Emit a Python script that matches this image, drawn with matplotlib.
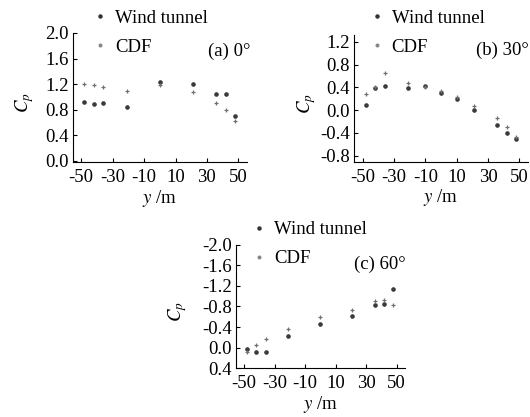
import matplotlib
matplotlib.use("Agg")
import matplotlib.pyplot as plt
from matplotlib.lines import Line2D

plt.rcParams['font.family'] = ['Liberation Serif', 'DejaVu Serif']
plt.rcParams['mathtext.fontset'] = 'stix'
plt.rcParams['axes.unicode_minus'] = False
plt.rcParams['font.size'] = 13.5

# panel (a) 0 deg
ya = [-48, -42, -36, -21, 0, 21, 36, 42, 48]
wind_a = [0.92, 0.89, 0.90, 0.84, 1.23, 1.20, 1.04, 1.05, 0.70]
cdf_a = [1.20, 1.18, 1.15, 1.10, 1.18, 1.08, 0.90, 0.80, 0.62]

# panel (b) 30 deg
yb = [-48, -42, -36, -21, -10, 0, 10, 21, 36, 42, 48]
wind_b = [0.09, 0.38, 0.42, 0.39, 0.42, 0.30, 0.19, 0.00, -0.26, -0.41, -0.51]
cdf_b = [0.29, 0.40, 0.66, 0.47, 0.40, 0.33, 0.23, 0.07, -0.14, -0.30, -0.47]

# panel (c) 60 deg
yc = [-48, -42, -36, -21, 0, 21, 36, 42, 48]
wind_c = [0.03, 0.09, 0.08, -0.22, -0.45, -0.62, -0.83, -0.85, -1.14]
cdf_c = [0.08, -0.05, -0.17, -0.36, -0.60, -0.74, -0.90, -0.93, -0.82]

xticks = [-50, -30, -10, 10, 30, 50]

fig = plt.figure(figsize=(5.3, 4.17), dpi=100)

panels = [
    # axes rect, x, wind, cdf, ylim, yticks, tag, tag pos, legend pos, ylabel x
    ([0.137, 0.611, 0.329, 0.310], ya, wind_a, cdf_a, (-0.02, 2.0),
     [0.0, 0.4, 0.8, 1.2, 1.6, 2.0], "(a) 0°", (0.472, 0.878), (0.178, 0.977), -0.21),
    ([0.668, 0.612, 0.328, 0.304], yb, wind_b, cdf_b, (-0.91, 1.32),
     [-0.8, -0.4, 0.0, 0.4, 0.8, 1.2], "(b) 30°", (0.998, 0.880), (0.700, 0.977), -0.21),
    ([0.445, 0.117, 0.319, 0.296], yc, wind_c, cdf_c, (0.4, -2.0),
     [0.4, 0.0, -0.4, -0.8, -1.2, -1.6, -2.0], "(c) 60°", (0.766, 0.365), (0.478, 0.470), -0.28),
]

for rect, x, wind, cdf, ylim, yt, tag, tagpos, legpos, ylx in panels:
    ax = fig.add_axes(rect)
    ax.plot(x, wind, linestyle='none', marker='o', ms=2.3, color='#3a3a3a')
    ax.plot(x, cdf, linestyle='none', marker='+', ms=3.2, mew=0.9, color='#707070')
    ax.set_xlim(-55.5, 55.5)
    ax.set_ylim(*ylim)
    ax.set_xticks(xticks)
    ax.set_yticks(yt)
    ax.set_yticklabels(["%.1f" % v for v in yt])
    ax.spines['top'].set_visible(False)
    ax.spines['right'].set_visible(False)
    ax.tick_params(direction='in', length=3, width=0.8, labelsize=13.5)
    ax.tick_params(axis='x', pad=5)
    ax.tick_params(axis='y', pad=3)
    ax.set_xlabel("$y$ /m", fontsize=13.5, labelpad=1)
    ax.set_ylabel("$C_p$", fontsize=13.5)
    ax.yaxis.set_label_coords(ylx, 0.46)
    fig.text(tagpos[0], tagpos[1], tag, ha='right', va='center', fontsize=13.5)
    handles = [Line2D([], [], linestyle='none', marker='o', ms=2.2, color='#333333'),
               Line2D([], [], linestyle='none', marker='o', ms=1.9, color='#888888')]
    ax.legend(handles, ["Wind tunnel", "CDF"], loc='upper left',
              bbox_to_anchor=legpos, bbox_transform=fig.transFigure,
              frameon=False, fontsize=13.5, handlelength=0.6, handletextpad=0.5,
              borderpad=0, borderaxespad=0, labelspacing=0.65)

fig.savefig("out.png", dpi=100)
